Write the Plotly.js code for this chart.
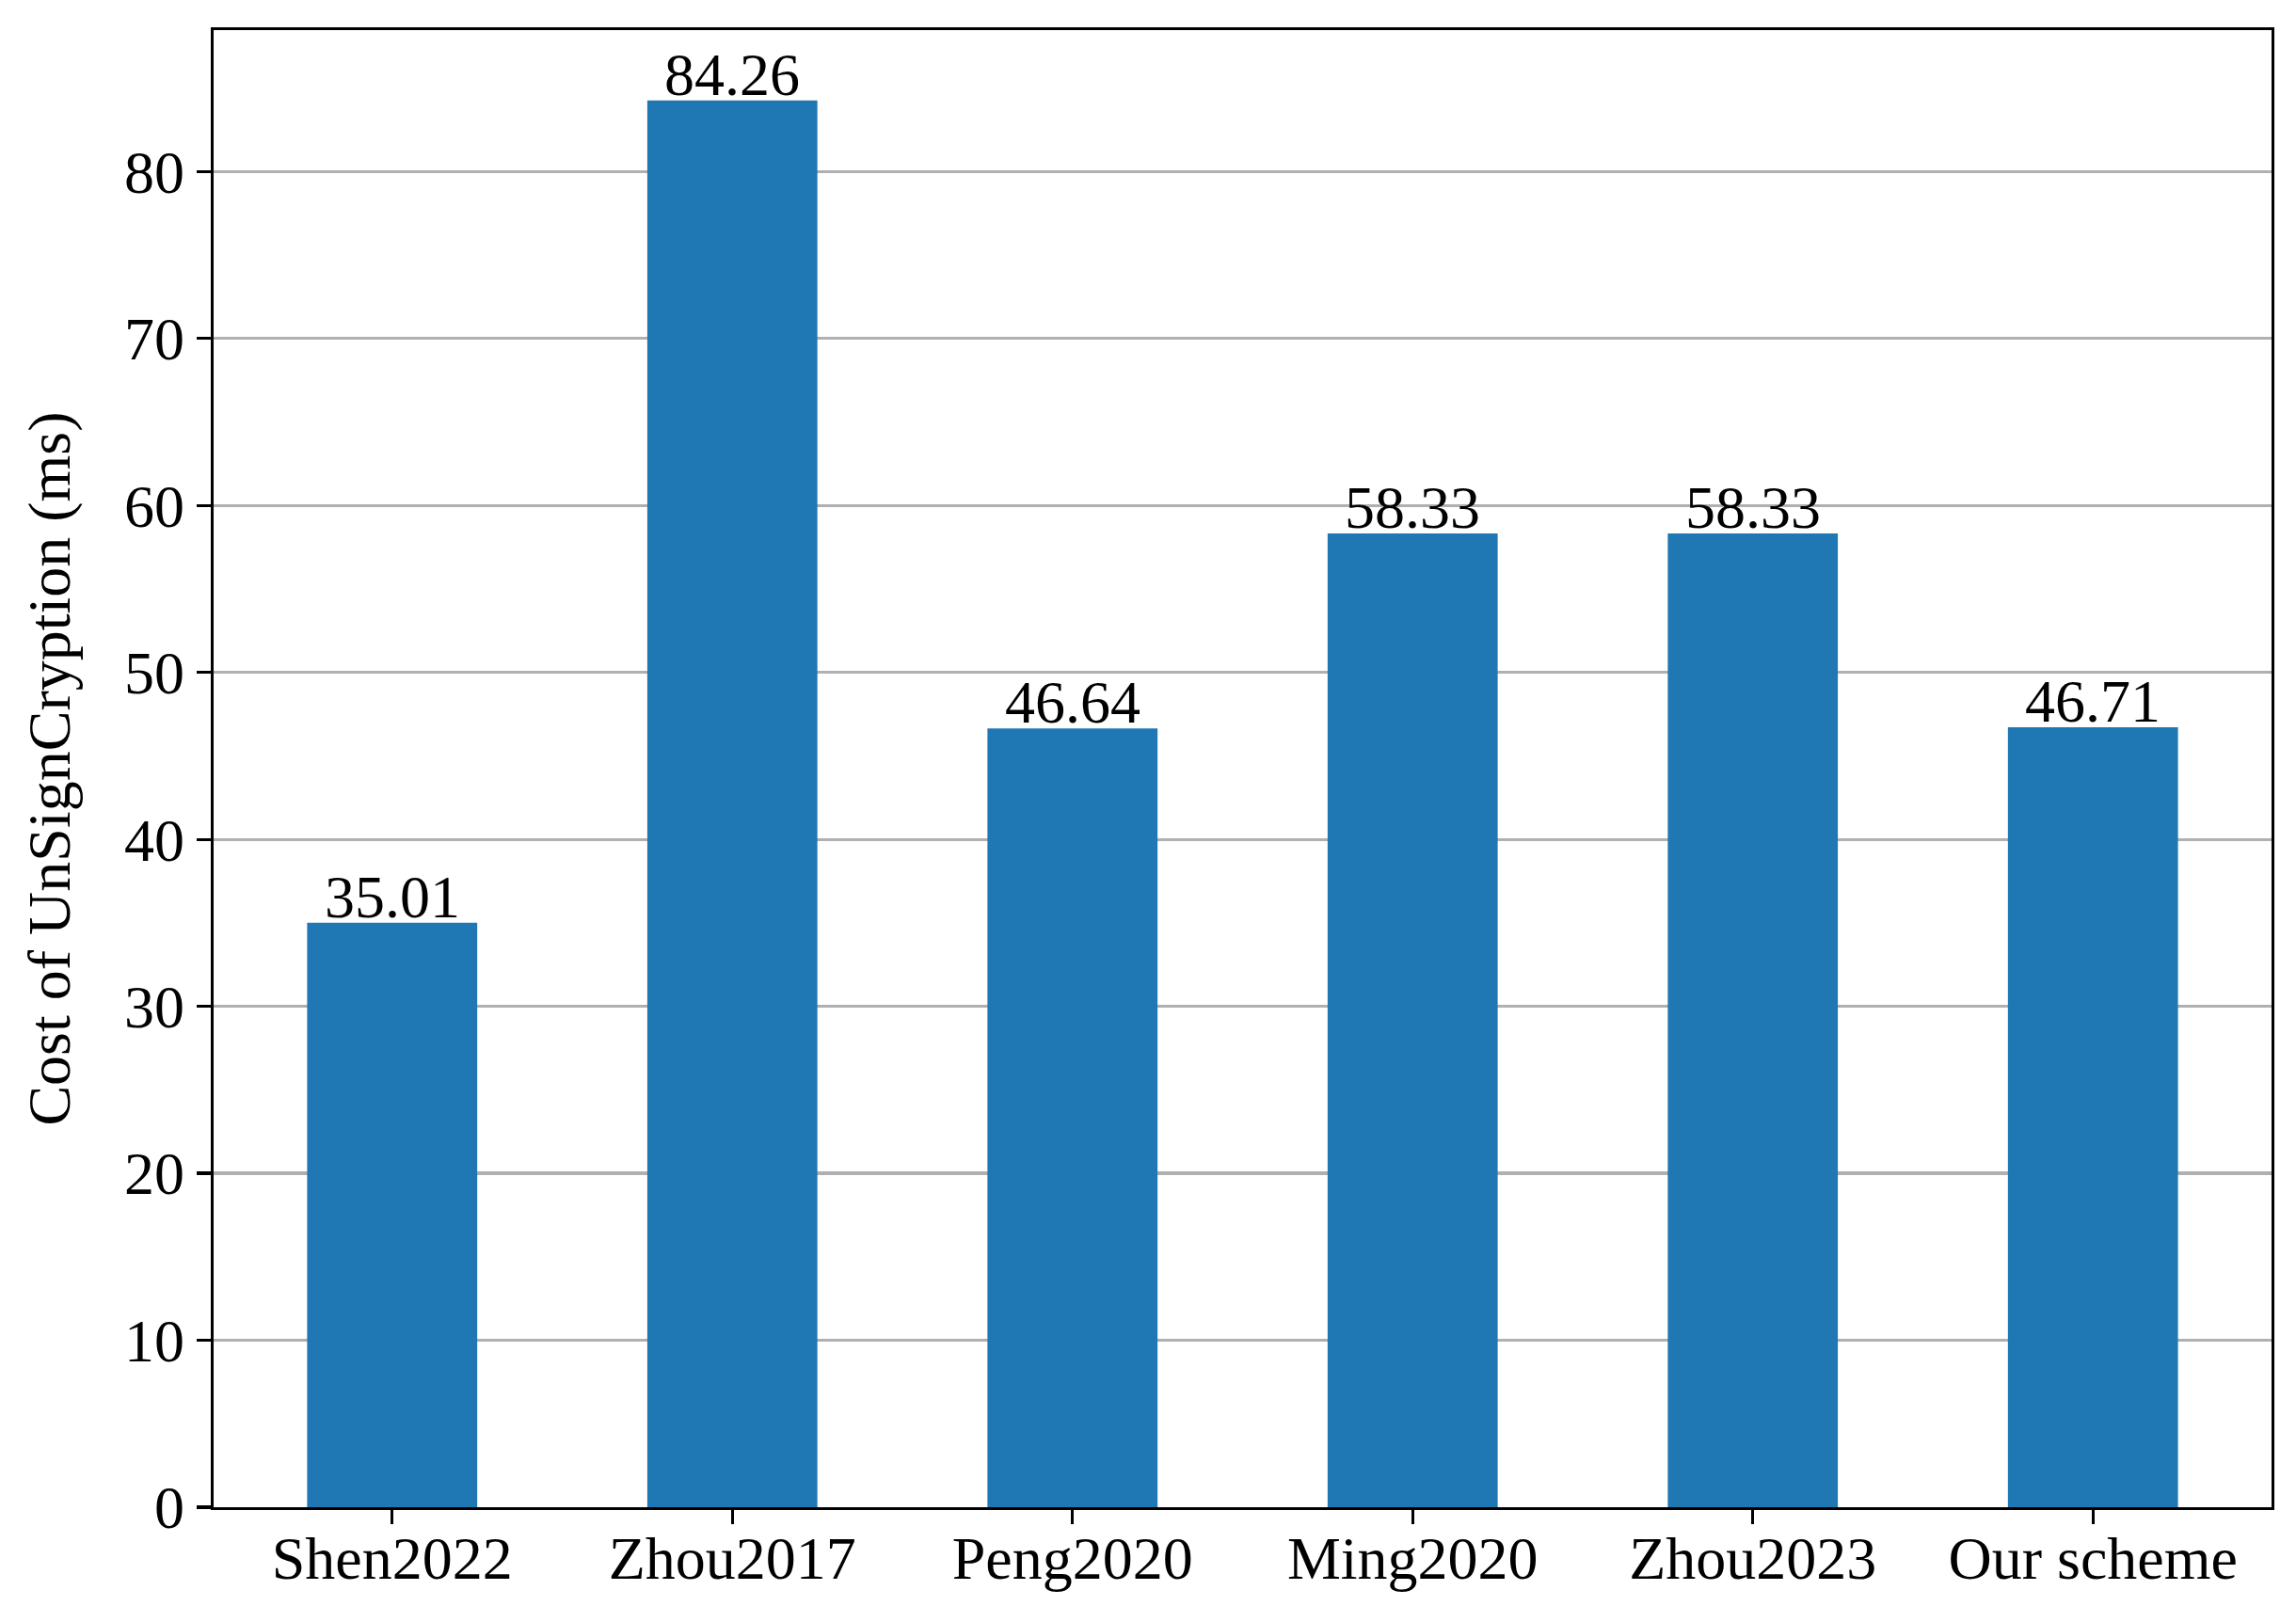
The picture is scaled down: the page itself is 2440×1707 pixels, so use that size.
<!DOCTYPE html>
<html>
<head>
<meta charset="utf-8">
<script src="https://cdn.plot.ly/plotly-3.0.1.min.js"></script>
<style>html,body{margin:0;padding:0;background:#fff;}</style>
</head>
<body>
<div id="chart" style="width:2440px;height:1707px;"></div>
<script>
const schemes = ["Shen2022", "Zhou2017", "Peng2020", "Ming2020", "Zhou2023", "Our scheme"];
const costs = [35.01, 84.26, 46.64, 58.33, 58.33, 46.71];
const yTicks = [0, 10, 20, 30, 40, 50, 60, 70, 80];

const FONT = "Liberation Serif, Times New Roman, serif";
const FS = 64;

const trace = {
  type: "bar",
  x: schemes.map((_, i) => i),
  y: costs,
  width: 0.5,
  marker: {color: "#1f77b4", line: {width: 0}},
  hoverinfo: "skip"
};

const annotations = costs.map((v, i) => ({
  x: i, y: v, xref: "x", yref: "y",
  text: v.toFixed(2),
  showarrow: false,
  yanchor: "bottom",
  yshift: -10,
  font: {family: FONT, size: FS, color: "#000"}
}));

const layout = {
  width: 2440, height: 1707,
  margin: {l: 227, r: 26, t: 32, b: 105, pad: 0},
  paper_bgcolor: "#fff", plot_bgcolor: "#fff",
  showlegend: false,
  font: {family: FONT, size: FS, color: "#000"},
  xaxis: {
    range: [-0.525, 5.525],
    tickmode: "array",
    tickvals: schemes.map((_, i) => i),
    ticktext: schemes,
    ticks: "outside", ticklen: 15, tickwidth: 3.3, tickcolor: "#000",
    ticklabelstandoff: -19,
    showline: true, linecolor: "#000", linewidth: 3.3, mirror: true,
    showgrid: false, zeroline: false,
    tickfont: {family: FONT, size: FS, color: "#000"}
  },
  yaxis: {
    range: [0, 88.473],
    tickmode: "array",
    tickvals: yTicks,
    ticktext: yTicks.map(String),
    ticks: "outside", ticklen: 15, tickwidth: 3.3, tickcolor: "#000",
    showline: true, linecolor: "#000", linewidth: 3.3, mirror: true,
    showgrid: true, gridcolor: "#b0b0b0", gridwidth: 3.3,
    zeroline: false,
    tickfont: {family: FONT, size: FS, color: "#000"},
    title: {text: "Cost of UnSignCryption (ms)", font: {family: FONT, size: FS, color: "#000"}, standoff: 37}
  },
  annotations: annotations
};

Plotly.newPlot("chart", [trace], layout, {displayModeBar: false, staticPlot: true});
</script>
</body>
</html>
